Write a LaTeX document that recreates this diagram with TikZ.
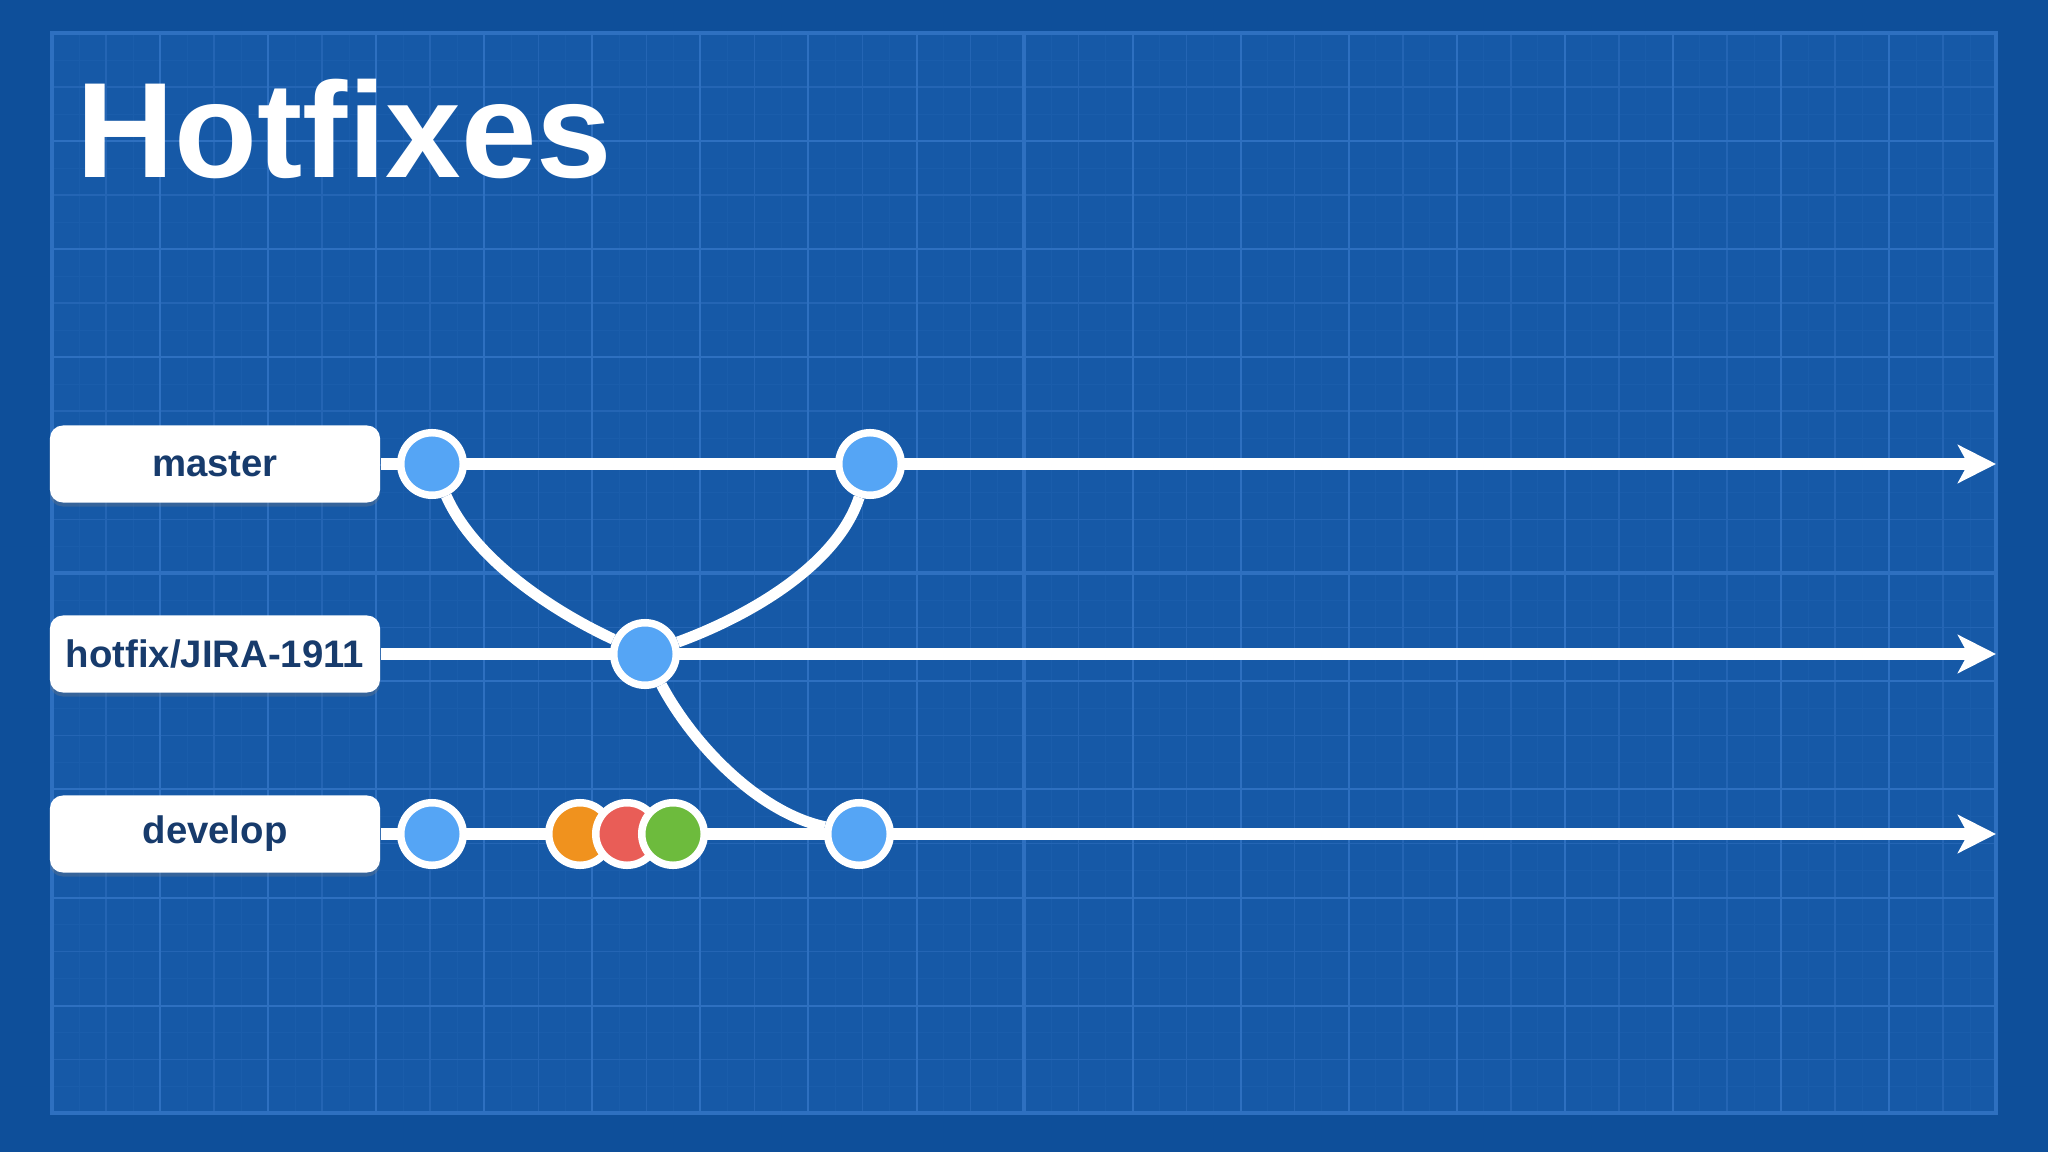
\documentclass[tikz,border=0pt]{standalone}
\usepackage{fontspec}
\setmainfont{Liberation Sans}
\usetikzlibrary{arrows.meta,shadows}
\definecolor{bgblue}{HTML}{0E4F9A}
\definecolor{panel}{HTML}{1659A7}
\definecolor{gridminor}{HTML}{1A5DAB}
\definecolor{gridmid}{HTML}{2465B4}
\definecolor{gridmajor}{HTML}{2E70C0}
\definecolor{commitblue}{HTML}{55A5F5}
\definecolor{corange}{HTML}{F0921E}
\definecolor{cred}{HTML}{E95D57}
\definecolor{cgreen}{HTML}{6DBB3D}
\definecolor{navy}{HTML}{173B6C}
\pgfdeclarelayer{bg}
\pgfdeclarelayer{edges}
\pgfsetlayers{bg,edges,main}

\begin{document}
\begin{tikzpicture}[x=0.01cm,y=-0.01cm,
    branchbox/.style={rounded corners=0.13cm,fill=white,minimum width=3.3cm,minimum height=0.77cm,inner sep=0pt,text=navy,font=\bfseries\fontsize{10.9}{12}\selectfont,drop shadow={opacity=0.3,shadow xshift=0cm,shadow yshift=-0.04cm}},
    commit/.style={circle,draw=white,line width=0.075cm,minimum size=0.625cm,inner sep=0pt,fill=commitblue},
    branch/.style={draw=white,line width=0.11cm},
    tip/.style={-{Stealth[length=0.38cm,width=0.38cm,inset=0.1cm]}}]
    \useasboundingbox (0,0) rectangle (2048,1152);
    \begin{pgfonlayer}{bg}
    \fill[bgblue] (0,0) rectangle (2048,1152);
    \fill[panel] (52,33) rectangle (1996,1113);
    \begin{scope}[shift={(52,33)}]
    \draw[gridminor,line width=0.01cm,step=0.27cm] (0,0) grid (1944,1080);
    \draw[gridmid,line width=0.015cm,step=0.54cm] (0,0) grid (1944,1080);
    \draw[gridmajor,line width=0.02cm,step=1.08cm] (0,0) grid (1944,1080);
    \end{scope}
    \draw[gridmajor,line width=0.035cm] (1024,33) -- (1024,1113) (52,573) -- (1996,573);
    \draw[gridmajor,line width=0.035cm] (52,33) rectangle (1996,1113);
    \end{pgfonlayer}
    \node[anchor=base west,inner sep=0pt,text=white,font=\bfseries\fontsize{38.6}{39}\selectfont] (t) at (76,178) {Hotfixes};
    \node[branchbox] (a) at (215,464) {master};
    \node[branchbox] (b) at (215,654) {hotfix/JIRA-1911};
    \node[branchbox] (c) at (215,834) {develop};
    \node[commit] (m1) at (432,464) {};
    \node[commit] (m2) at (870,464) {};
    \node[commit] (h1) at (645,654) {};
    \node[commit] (d1) at (432,834) {};
    \node[commit,fill=corange] (d2) at (580,834) {};
    \node[commit,fill=cred] (d3) at (627,834) {};
    \node[commit,fill=cgreen] (d4) at (673,834) {};
    \node[commit] (d5) at (859,834) {};
    \coordinate (ea) at (1996,464);
    \coordinate (eb) at (1996,654);
    \coordinate (ec) at (1996,834);
    \begin{pgfonlayer}{edges}
    \draw [branch,tip] (a) -- (ea);
    \draw [branch,tip] (b) -- (eb);
    \draw [branch,tip] (c) -- (ec);
    \draw [branch] (m1) to[out=-66,in=155,looseness=0.8] (h1);
    \draw [branch] (h1) to[out=20,in=-108,looseness=0.8] (m2);
    \draw [branch] (h1) to[out=-62,in=168,looseness=0.8] (d5);
    \end{pgfonlayer}
\end{tikzpicture}
\end{document}
